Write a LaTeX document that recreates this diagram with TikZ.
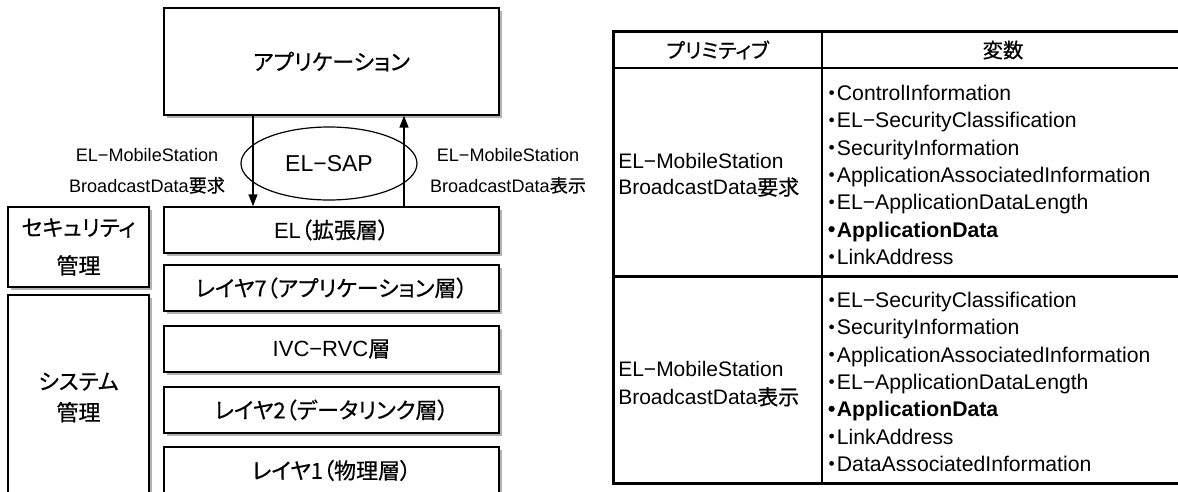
\documentclass[tikz,border=0pt]{standalone}
\usepackage{fontspec}
\setmainfont{Liberation Sans}
\newfontfamily\jpfont{Noto Sans CJK JP}[RawFeature=+palt,FakeBold=0.6]
\newcommand{\jp}[1]{{\jpfont #1}}
\usetikzlibrary{arrows.meta,shapes.geometric,shadows}

\begin{document}
\begin{tikzpicture}[x=1pt,y=-1pt,>={Triangle[length=12pt,width=9pt]},
                    semithick]
  \tikzstyle{layer}=[draw=black,line width=1.5pt,fill=white,inner sep=0pt,
    drop shadow={shadow xshift=3pt,shadow yshift=-3pt,fill=black!30,opacity=1},
    align=center,font=\fontsize{22}{26}\selectfont]
  \tikzstyle{label}=[align=center,inner sep=0pt,font=\fontsize{18.1}{30.7}\selectfont]
  \tikzstyle{cell}=[align=left,anchor=west,inner sep=0pt,font=\fontsize{21.2}{27.3}\selectfont]

  \clip (0,0) rectangle (1178,492);

  % protocol stack
  \node[layer,minimum width=335pt,minimum height=107pt] (App) at (331.5,61.5) {\jp{アプリケーション}};
  \node[layer,minimum width=335pt,minimum height=46pt]  (EL)  at (331.5,230)  {EL\jp{（拡張層）}};
  \node[layer,minimum width=335pt,minimum height=46pt]  (L7)  at (331.5,288)  {\jp{レイヤ7（アプリケーション層）}};
  \node[layer,minimum width=335pt,minimum height=46pt]  (IVC) at (331.5,349)  {IVC−RVC\jp{層}};
  \node[layer,minimum width=335pt,minimum height=46pt]  (L2)  at (331.5,410)  {\jp{レイヤ2（データリンク層）}};
  \node[layer,minimum width=335pt,minimum height=47pt]  (L1)  at (331.5,470.5) {\jp{レイヤ1（物理層）}};

  \node[layer,minimum width=141pt,minimum height=80pt,font=\fontsize{22}{38}\selectfont]
       (Sec) at (78.5,247) {\jp{セキュリティ}\\\jp{管理}};
  \node[layer,minimum width=141pt,minimum height=205pt,font=\fontsize{22}{31}\selectfont]
       (Sys) at (78.5,397.5) {\jp{システム}\\\jp{管理}};

  \node[draw,ellipse,line width=1.2pt,minimum width=176pt,minimum height=73pt,inner sep=0pt,
        font=\fontsize{23}{26}\selectfont] (SAP) at (329,163.5) {EL−SAP};

  \draw[->,line width=1.5pt] ([xshift=-78.5pt]App.south) -- ([xshift=-78.5pt]EL.north);
  \draw[<-,line width=1.5pt] ([xshift=72.5pt]App.south) -- ([xshift=72.5pt]EL.north);

  \node[label] (Req) at (147,171) {EL−MobileStation\\BroadcastData\jp{要求}};
  \node[label] (Ind) at (508,171) {EL−MobileStation\\BroadcastData\jp{表示}};

  % primitive table
  \draw[line width=3pt] (613,32) rectangle (1184,483);
  \draw[line width=2pt] (613,68) -- (1184,68);
  \draw[line width=3pt] (613,276) -- (1184,276);
  \draw[line width=2pt] (822,32) -- (822,483);

  \node[font=\fontsize{20.3}{24}\selectfont] (H1) at (717.5,50) {\jp{プリミティブ}};
  \node[font=\fontsize{20.3}{24}\selectfont] (H2) at (1003,50) {\jp{変数}};

  \node[cell,font=\fontsize{21}{26.5}\selectfont] (P1) at (618,175)
    {EL−MobileStation\\BroadcastData\jp{要求}};
  \node[cell,font=\fontsize{21}{28}\selectfont] (P2) at (618,384)
    {EL−MobileStation\\BroadcastData\jp{表示}};

  \node[cell] (V1) at (826,175) {\jp{・}ControlInformation\\
    \jp{・}EL−SecurityClassification\\
    \jp{・}SecurityInformation\\
    \jp{・}ApplicationAssociatedInformation\\
    \jp{・}EL−ApplicationDataLength\\
    {\bfseries\jp{・}ApplicationData}\\
    \jp{・}LinkAddress};
  \node[cell] (V2) at (826,382) {\jp{・}EL−SecurityClassification\\
    \jp{・}SecurityInformation\\
    \jp{・}ApplicationAssociatedInformation\\
    \jp{・}EL−ApplicationDataLength\\
    {\bfseries\jp{・}ApplicationData}\\
    \jp{・}LinkAddress\\
    \jp{・}DataAssociatedInformation};
\end{tikzpicture}
\end{document}
